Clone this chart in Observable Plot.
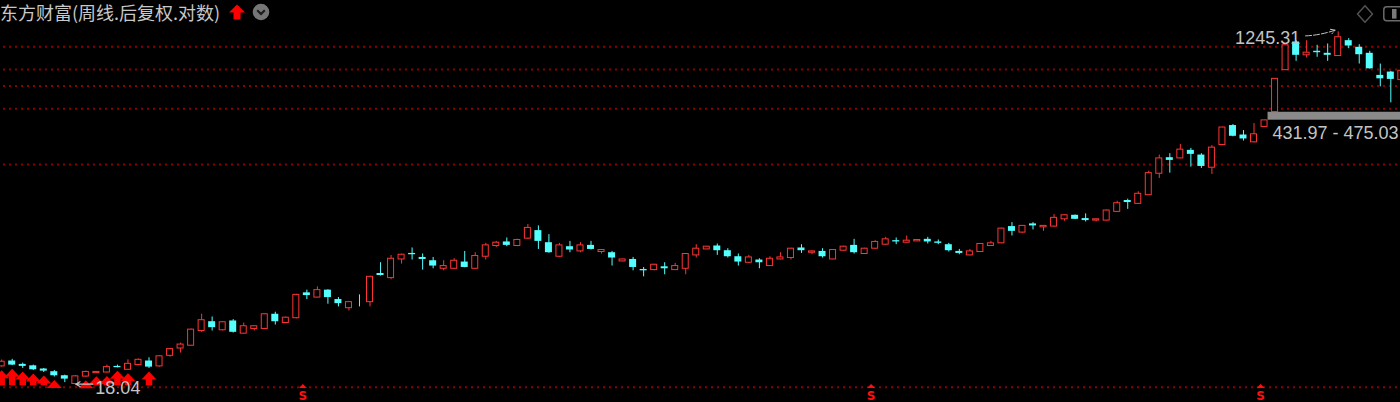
<!DOCTYPE html>
<html><head><meta charset="utf-8">
<script src="https://cdn.jsdelivr.net/npm/d3@7"></script>
<script src="https://cdn.jsdelivr.net/npm/@observablehq/plot@0.6"></script>
<style>
html,body{margin:0;padding:0;background:#000;overflow:hidden;}
#wrap{position:relative;width:1400px;height:402px;background:#000;}
#chart svg{display:block;}
#title{position:absolute;left:0;top:0;font-family:"Noto Sans CJK SC",sans-serif;font-size:18px;color:#c8c8c8;line-height:24px;white-space:nowrap;}
.icon{position:absolute;overflow:visible;}
</style></head><body>
<div id="wrap">
<div id="chart"></div>
<div id="title">东方财富(周线.后复权.对数)</div>
<svg class="icon" style="left:228px;top:4px" width="18" height="16"><polygon points="9,0.5 17,8.5 12.5,8.5 12.5,15.5 5.5,15.5 5.5,8.5 1,8.5" fill="#ff0000"/></svg>
<svg class="icon" style="left:252px;top:3px" width="18" height="18"><circle cx="9" cy="9" r="8.3" fill="#767676"/><polyline points="5.2,7.2 9,11 12.8,7.2" fill="none" stroke="#1a1a1a" stroke-width="2"/></svg>
<svg class="icon" style="left:1356px;top:5px" width="18" height="18"><polygon points="9,0.8 16.5,9 9,17.2 1.5,9" fill="none" stroke="#555" stroke-width="1.4"/></svg>
<svg class="icon" style="left:1383px;top:6px" width="20" height="16"><rect x="0.8" y="0.8" width="19" height="14" rx="3" fill="none" stroke="#6a6a6a" stroke-width="1.5"/><rect x="9" y="3" width="4.5" height="9.6" fill="#7a7a7a"/></svg>
</div>
<script>
// Weekly OHLC (post-adjusted, log scale)
const opens = [22.6,24.1,23.15,22.75,21.9,21.2,20.2,18.3,20.0,20.85,21.0,22.6,21.7,22.95,24.1,22.6,25.65,28.0,28.95,34.55,
38.6,34.85,38.95,33.45,35.4,35.4,42.2,38.0,40.25,54.55,51.55,56.35,50.35,45.4,49.55,48.8,68.8,65.1,81.4,87.5,
83.4,80.15,72.8,72.8,78.9,72.8,84.1,95.65,100.4,95.65,104.45,115,99.5,84.1,94.85,89.65,96.35,89,88.25,79.5,
81.4,72.2,71.65,74.55,71.65,72.8,85.45,91.8,95.65,90.4,84.1,78.25,80.85,75.2,81.4,82.8,93.4,88.25,89.65,81.4,
90.4,96.35,86.9,92.6,97.15,101.95,99.5,101.1,103.6,100.4,97.15,89.65,85.45,89,95.65,98.75,120.7,112.3,124.65,119.65,
120.7,131.7,138.2,132.85,129.7,129.7,144,165,158.5,175.8,227.4,275.6,273.3,300.9,284.4,244.4,320.7,405.1,361.7,331.3,
398.6,476,786.7,1103,940,986.5,962.8,932,1120.5,1035,962.8,739,769,698.4];
const highs = [24.4,24.6,23.5,22.95,22.05,21.5,20.35,20.25,21.35,21.25,22.95,22.95,24.45,24.7,25.05,25.6,28.0,29.9,35.35,42.2,
40.85,38.7,39.6,38.0,36.65,42.4,43.25,40.85,53.6,56.35,58.6,56.6,51.55,49.25,53.25,66.5,78.25,85.4,86.7,93.4,
86.9,83.4,80.15,82.1,89.6,88.25,98.75,101.1,105.3,103.8,123.6,121.7,109.6,98.75,101.1,99.5,101.1,91.5,89.65,81.6,
83.4,73.95,76.85,78.25,77.6,87.2,97.15,95.2,98,92.6,86.9,85.45,82.1,84.1,88.25,93.15,97.15,89.85,92.6,91.5,
95.4,103.6,93.15,101.95,106.1,105.3,107.9,103.2,106.1,102.8,98.75,91.8,91.8,98.3,101.1,118.5,126.6,122.1,126.6,122.1,
139.4,138.6,138.6,140.6,132,147.2,163.6,167.6,183.2,234.6,284.4,289.2,323.4,308.2,289.2,318.4,397,409.9,381.5,414.9,
431.97,711,1064,1120.5,1120.5,1060,1076.7,1245.31,1148,1067.7,986.5,846.5,775.6,783];
const lows = [22.4,22.8,22.05,21.5,21.0,19.9,18.6,18.04,19.85,20.8,20.85,22.2,21.6,22.8,22.05,22.4,25.25,26.5,28.85,34.0,
34.55,34.55,33.7,33.3,34.55,35.2,37.1,37.8,39.95,50.35,51.35,47.6,46.1,43.95,46.1,46.1,66.7,63.8,77.05,80.85,
71.65,72.8,71.05,72.4,73.7,72.4,80.85,94.05,94.85,94.85,103.8,91.8,87.7,83.4,88.25,88.25,91.15,86.9,75.2,79.2,
71.05,66.1,71.05,67.75,71.5,67.75,82.8,91.5,85.45,82.8,75.2,77.8,72.8,75,81,80.85,87.5,86.15,82.8,81,
89.65,86.9,86.65,92.05,96.6,97.15,99.2,100.9,98,97.15,89,86.15,85.1,88.8,95.4,98.3,107.9,111.6,115.95,114,
119.9,128.6,131.2,127.6,127.6,129.2,143.7,148.4,158.1,175.2,214.9,229,271.7,246.2,242.3,225.5,319.6,354.1,336.5,329.4,
396,475.03,783.6,874.5,910,917.6,874.5,926,1017,846.5,796,644.3,531.6,694];
const closes = [23.9,22.95,22.6,21.7,21.35,20.2,19.4,20.05,21.15,21.15,22.4,22.25,23.3,24.45,22.4,25.5,27.8,29.35,35.1,39.3,
35.95,38.35,34.0,36.55,36.55,42.2,38.6,40.5,53.25,52.8,56.35,51.55,47.95,48.8,49.55,66.1,67.15,82.1,86.15,86.15,
81.4,75.2,75.2,80.15,73.95,84.8,96.35,99.5,96.35,102.8,118.8,101.1,88.25,96.35,91.15,96.35,91.8,91.15,82.8,81.4,
73.95,71.05,76.4,72.8,75.2,86.9,92.6,94.85,90.4,84.1,78.9,83.4,78.25,82.1,83.4,92.6,90.4,89.65,84.1,91.15,
94.85,88.25,92.6,100.4,103.6,100.4,101.95,102.8,100.4,98.75,90.4,87.5,89.65,98,98.75,117.8,114,121.7,121.7,121.7,
134,138.2,131.7,129.7,131.7,146.3,159.7,161,178.8,229,273.3,266.8,303.5,286.8,248.2,310.9,395.6,356.2,344.9,364.8,
431,709,1060,940,970,970,940,1167,1051,946.8,799.7,709.3,704.2,781];

// dotted reference levels
const gridPrices = [1043, 794, 650, 495, 254, 17.6];
// buy-signal arrows (week index)
const signalWeeks = [0,1,2,3,4,5,8,9,10,11,12,14];
// ex-rights markers (week index)
const exRightsWeeks = [29, 83, 120];
// price gap
const gapAfterWeek = 120;
const gapLow = 431.97, gapHigh = 475.03;

const xMin = -0.112, xMax = 132.92;
const RED = "#ff3434", CYAN = "#54ffff", GRAY = "#c8c8c8";

const candles = opens.map((o, i) => ({i, o, h: highs[i], l: lows[i], c: closes[i]}));
const colorOf = d => d.c > d.o ? RED : d.c < d.o ? CYAN : GRAY;
const downs = candles.filter(d => d.c < d.o);
const ups = candles.filter(d => d.c >= d.o);
const maxC = candles.reduce((a, b) => b.h > a.h ? b : a);
const minC = candles.reduce((a, b) => b.l < a.l ? b : a);
const signals = signalWeeks.map(i => candles[i]);
const gap = [{after: gapAfterWeek, lo: gapLow, hi: gapHigh}];
const hw = 0.333;

const arrowHead = {draw(ctx) { ctx.moveTo(0, 0); ctx.lineTo(7.5, 8); ctx.lineTo(-7.5, 8); ctx.closePath(); }};
const hat = {draw(ctx) { ctx.moveTo(0, -2.5); ctx.lineTo(4, 1.5); ctx.lineTo(-4, 1.5); ctx.closePath(); }};
const labelFont = {fontFamily: "Liberation Sans, Arial, sans-serif", fontSize: 18, fill: "#c4c4c4"};

const chart = Plot.plot({
  width: 1400, height: 402,
  marginTop: 0, marginRight: 0, marginBottom: 0, marginLeft: 0,
  style: {background: "#000", overflow: "hidden"},
  x: {type: "linear", domain: [xMin, xMax], axis: null},
  y: {type: "log", domain: [14.66, 1813], axis: null},
  marks: [
    Plot.ruleY(gridPrices, {stroke: "#8e0000", strokeWidth: 2, strokeDasharray: "2 4", strokeDashoffset: -3}),
    Plot.rect(gap, {x1: d => d.after + hw, x2: () => xMax, y1: "lo", y2: "hi", fill: "#8a8a8a"}),
    Plot.ruleX(candles, {x: "i", y1: "l", y2: "h", stroke: colorOf, strokeWidth: 1, clip: true}),
    Plot.rect(downs, {x1: d => d.i - hw, x2: d => d.i + hw, y1: "o", y2: "c", fill: CYAN, clip: true}),
    Plot.rect(ups, {x1: d => d.i - hw, x2: d => d.i + hw, y1: "o", y2: "c", fill: "#000", stroke: colorOf, strokeWidth: 1,
      insetLeft: 0.5, insetRight: 0.5, clip: true}),
    Plot.ruleX(signals, {x: "i", y1: "l", y2: 17.9, stroke: "#ff0000", strokeWidth: 6.5, insetTop: 10}),
    Plot.dot(signals, {x: "i", y: "l", symbol: arrowHead, fill: "#ff0000", stroke: "none", dy: 3}),
    Plot.dot(exRightsWeeks, {x: d => d, frameAnchor: "bottom", symbol: hat, fill: "#ff1010", stroke: "none", dy: -16, dx: -4}),
    Plot.text(exRightsWeeks, {x: d => d, frameAnchor: "bottom", text: () => "S", lineAnchor: "bottom", dy: -2.5, dx: -4,
      fill: "#ff1010", fontSize: 12, fontWeight: "bold", fontFamily: "DejaVu Sans"}),
    Plot.text(gap, {x: () => xMax, y: "lo", text: d => `${d.lo.toFixed(2)} - ${d.hi.toFixed(2)}`, textAnchor: "end", dx: -2, dy: 13, ...labelFont}),
    Plot.text([maxC], {x: "i", y: "h", text: d => d.h.toFixed(2), textAnchor: "end", dx: -38, dy: 6, ...labelFont}),
    Plot.arrow([maxC], {x1: d => d.i - 3.1, y1: d => d.h / 1.05, x2: d => d.i - 0.3, y2: d => d.h * 1.02,
      stroke: "#c4c4c4", strokeWidth: 1, strokeDasharray: "6 2", headLength: 7, bend: -8}),
    Plot.text([minC], {x: "i", y: "l", text: d => d.l.toFixed(2), textAnchor: "start", dx: 20, dy: 3, ...labelFont}),
    Plot.arrow([minC], {x1: d => d.i + 1.65, x2: d => d.i + 0.05, y1: "l", y2: "l", dy: -1,
      stroke: "#c4c4c4", strokeWidth: 1.2, headLength: 6})
  ]
});
document.getElementById("chart").appendChild(chart);
</script>
</body></html>
